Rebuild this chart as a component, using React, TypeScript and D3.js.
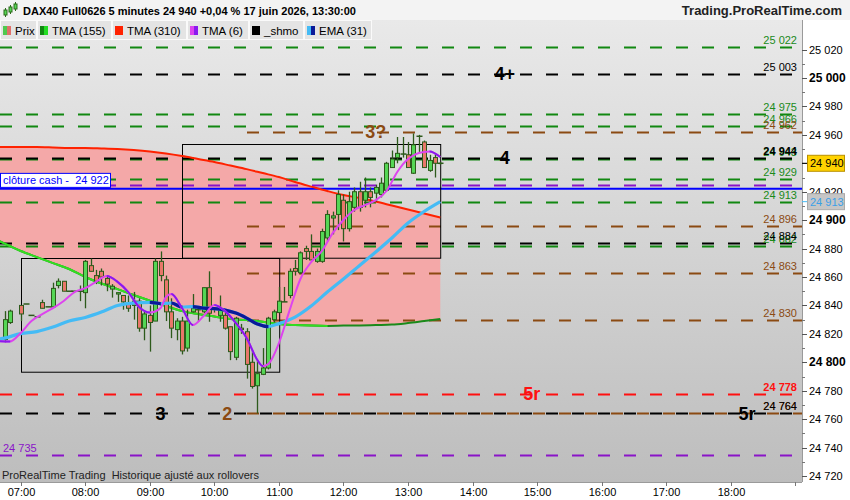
import React from "react";
import * as d3 from "d3";

// 5 minute candles: time, open, high, low, close
const candles: [string, number, number, number, number][] = [
  ["06:45", 24816, 24836, 24814, 24830],
  ["06:50", 24828, 24837, 24827, 24836],
  ["07:00", 24840, 24840, 24829, 24834],
  ["07:05", 24841, 24841, 24841, 24841],
  ["07:10", 24833, 24833, 24833, 24833],
  ["07:15", 24832, 24832, 24832, 24832],
  ["07:20", 24842, 24844, 24838, 24838],
  ["07:25", 24839, 24839, 24839, 24839],
  ["07:30", 24839, 24856, 24839, 24852],
  ["07:35", 24854, 24859, 24852, 24857],
  ["07:40", 24857, 24857, 24850, 24850],
  ["07:45", 24850, 24850, 24850, 24850],
  ["07:50", 24850, 24850, 24850, 24850],
  ["07:55", 24850, 24854, 24843, 24850],
  ["08:00", 24849, 24872, 24838, 24871],
  ["08:05", 24868, 24873, 24864, 24864],
  ["08:10", 24861, 24865, 24855, 24857],
  ["08:15", 24864, 24866, 24854, 24860],
  ["08:20", 24859, 24861, 24850, 24855],
  ["08:25", 24851.5, 24855, 24845.5, 24853.5],
  ["08:30", 24848, 24849, 24842.5, 24849],
  ["08:35", 24847, 24847, 24837, 24842.5],
  ["08:40", 24841.5, 24847, 24835.5, 24838],
  ["08:45", 24840, 24849.5, 24830, 24843],
  ["08:50", 24843, 24845, 24821.5, 24824],
  ["08:55", 24824, 24835.5, 24815.5, 24834],
  ["09:00", 24833, 24840, 24807.5, 24828],
  ["09:05", 24829, 24873, 24829, 24871],
  ["09:10", 24871, 24878, 24857, 24861],
  ["09:15", 24858, 24861, 24829, 24835.5],
  ["09:20", 24835.5, 24845, 24817, 24824],
  ["09:25", 24823, 24831, 24815.5, 24829],
  ["09:30", 24829, 24832, 24805.5, 24808],
  ["09:35", 24810, 24837, 24807.5, 24829],
  ["09:40", 24835.5, 24848, 24835, 24838],
  ["09:45", 24837, 24837, 24828.5, 24837],
  ["09:50", 24835.5, 24852.5, 24834.5, 24852.5],
  ["09:55", 24852.5, 24864, 24828.5, 24834.5],
  ["10:00", 24837, 24838, 24835, 24837.5],
  ["10:05", 24833, 24847, 24828.5, 24837],
  ["10:10", 24833, 24837, 24823, 24824],
  ["10:15", 24825, 24825, 24801.5, 24807.5],
  ["10:20", 24803.5, 24832, 24801.5, 24831],
  ["10:25", 24824, 24827, 24820, 24823],
  ["10:30", 24821.5, 24824, 24788.5, 24798.5],
  ["10:35", 24800, 24808.5, 24781.5, 24783],
  ["10:40", 24783.5, 24801.5, 24764, 24792],
  ["10:45", 24791.5, 24810, 24791, 24796],
  ["10:50", 24796, 24832, 24795, 24831],
  ["10:55", 24830, 24837, 24828, 24835.5],
  ["11:00", 24835, 24853, 24834.5, 24843],
  ["11:05", 24843, 24853, 24842.5, 24842.5],
  ["11:10", 24847, 24866, 24845, 24864],
  ["11:15", 24866, 24872, 24861, 24864],
  ["11:20", 24863, 24878, 24862, 24877],
  ["11:25", 24880, 24882, 24872, 24878],
  ["11:30", 24878, 24890, 24872, 24872],
  ["11:35", 24871, 24880, 24870, 24878],
  ["11:40", 24871, 24894, 24870, 24892],
  ["11:45", 24887.5, 24907, 24885, 24904],
  ["11:50", 24901.5, 24906, 24890, 24903],
  ["11:55", 24904, 24921, 24893, 24918],
  ["12:00", 24914, 24918, 24885, 24894],
  ["12:05", 24894, 24920, 24892, 24913],
  ["12:10", 24909, 24923, 24906, 24920],
  ["12:15", 24920, 24927, 24906, 24909],
  ["12:20", 24914, 24930, 24909, 24920],
  ["12:25", 24920, 24923, 24909, 24916],
  ["12:30", 24919, 24925, 24913, 24923],
  ["12:35", 24918, 24930, 24916, 24926],
  ["12:40", 24921, 24941, 24920, 24940],
  ["12:45", 24937, 24949, 24937, 24943],
  ["12:50", 24944, 24958.5, 24940, 24947],
  ["12:55", 24946.5, 24958.5, 24944, 24946.5],
  ["13:00", 24946, 24955, 24937, 24937],
  ["13:05", 24933, 24961, 24932.5, 24953],
  ["13:10", 24959, 24960, 24948, 24959],
  ["13:15", 24955, 24956, 24937, 24937],
  ["13:20", 24935, 24946, 24934, 24942],
  ["13:25", 24944, 24947, 24930, 24940],
  ["13:30", 24940, 24941, 24939, 24940],
];

// TMA (155) and TMA (310), read every 15 minutes
const maTimes = ["06:40", "07:00", "07:15", "07:30", "07:45", "08:00", "08:15", "08:30", "08:45", "09:00", "09:15", "09:30", "09:45", "10:00", "10:15", "10:30", "10:45", "11:00", "11:15", "11:30", "11:45", "12:00", "12:15", "12:30", "12:45", "13:00", "13:15", "13:30"];
const tma310 = [24951.4, 24951.4, 24951.4, 24951.1, 24950.7, 24950.7, 24950.4, 24950, 24949.3, 24948.3, 24946.9, 24945.1, 24943, 24940.9, 24938.4, 24935.9, 24933.1, 24930.3, 24926.8, 24923.6, 24920.5, 24917.7, 24915.6, 24913.1, 24910.3, 24907.5, 24904.7, 24901.8];
const tma155 = [24885.3, 24878.3, 24874.0, 24869.8, 24865.6, 24860.0, 24855.4, 24851.5, 24847.3, 24843.4, 24839.6, 24836.0, 24833.9, 24832.2, 24830.4, 24829.7, 24828.6, 24826.9, 24826.2, 24825.8, 24825.6, 24825.8, 24825.9, 24826.2, 24826.5, 24827.6, 24829.0, 24830.4];

// TMA (6)
const tma6Times = ["06:40", "06:50", "07:00", "07:10", "07:20", "07:30", "07:40", "07:50", "08:00", "08:10", "08:20", "08:30", "08:40", "08:50", "09:00", "09:10", "09:15", "09:20", "09:30", "09:40", "09:50", "10:00", "10:10", "10:20", "10:30", "10:40", "10:45", "10:50", "11:00", "11:10", "11:20", "11:30", "11:40", "11:50", "12:00", "12:10", "12:20", "12:30", "12:40", "12:50", "13:00", "13:10", "13:20", "13:30"];
const tma6 = [24814.9, 24814.6, 24820.6, 24829.0, 24833.9, 24838.1, 24843.1, 24849.4, 24852.2, 24856.6, 24860.7, 24856.6, 24849.4, 24838.9, 24835.0, 24838.1, 24845.9, 24848.0, 24838.1, 24826.2, 24832.5, 24840.3, 24836.0, 24827.6, 24817.0, 24801.6, 24797.3, 24798.7, 24813.5, 24836.7, 24858.6, 24870.5, 24878.3, 24890.9, 24900.1, 24907.1, 24910.6, 24914.1, 24920.5, 24933.9, 24943.0, 24947.2, 24948.3, 24944.4];

// EMA (31)
const emaTimes = ["06:40", "06:45", "07:00", "07:15", "07:30", "07:45", "08:00", "08:15", "08:30", "08:45", "09:00", "09:10", "09:20", "09:30", "09:40", "09:50", "10:00", "10:10", "10:20", "10:30", "10:40", "10:50", "11:00", "11:15", "11:30", "11:45", "12:00", "12:15", "12:30", "12:45", "13:00", "13:15", "13:30"];
const ema31 = [24816.3, 24817, 24820.2, 24821.6, 24824.8, 24829, 24831.5, 24835.3, 24840, 24841.7, 24842.2, 24841.3, 24841.7, 24838.9, 24839.2, 24838.1, 24837.8, 24836.7, 24834.6, 24831.1, 24826.9, 24825.1, 24827.2, 24831.8, 24839.6, 24849.4, 24858.6, 24868.1, 24877.6, 24887.4, 24898, 24906.1, 24913];

// horizontal levels
const greenLevels = [25022, 24975, 24966, 24943, 24929, 24913, 24882];
const blackLevels = [25003, 24944, 24884, 24764];
const brownLevels = [24962, 24896, 24863, 24830, 24764];
const brownStart = "10:30";
const redLevels = [24778];
const purpleLevels = [24925, 24735];
const cashClose = 24922;

// zones: start, end, top, bottom
const zones: [string, string, number, number][] = [
  ["07:00", "11:00", 24873.3, 24793.3],
  ["09:30", "13:30", 24953.3, 24873.3],
];

// annotations
const blackMarks: [string, string, number][] = [["4+", "14:30", 25003], ["4", "14:30", 24944], ["3", "09:10", 24764], ["5r", "18:15", 24764]];
const brownMarks: [string, string, number][] = [["3?", "12:30", 24962], ["2", "10:12", 24764]];
const redMarks: [string, string, number][] = [["5r", "14:55", 24778]];

const priceTicks = d3.range(24720, 25021, 20);
const minorTicks = d3.range(24730, 25021, 20);
const hourTicks = ["07:00", "08:00", "09:00", "10:00", "11:00", "12:00", "13:00", "14:00", "15:00", "16:00", "17:00", "18:00", "19:00"];
const lastPrice = 24940;

const legend = [
  { label: "Prix", c: ["#4fc94f", "#e0706a"] },
  { label: "TMA (155)", c: ["#118811", "#22dd22"] },
  { label: "TMA (310)", c: ["#ff2200", "#ff2200"] },
  { label: "TMA (6)", c: ["#dd44ee", "#8a1aee"] },
  { label: "_shmo", c: ["#000", "#000"] },
  { label: "EMA (31)", c: ["#44bbf5", "#0a1a99"] },
];
const legendEdges = [0, 37, 112, 187, 249, 304, 372];

const W = 850;
const H = 500;
const PR = 802; // plot right
const PT = 20;
const PB = 482;
const FONT = "'Liberation Sans', Arial, sans-serif";

const toMin = (t: string) => {
  const [h, m] = t.split(":").map(Number);
  return h * 60 + m;
};
const x = d3.scaleLinear().domain([toMin("07:00"), toMin("19:00")]).range([20.7, 795.3]);
const y = d3.scaleLinear().domain([24720, 25000]).range([476, 78]);
const fmt = (v: number) => {
  const s = String(Math.round(v));
  return s.slice(0, s.length - 3) + " " + s.slice(s.length - 3);
};

function TwoTone(props: { id: string; times: string[]; values: number[]; up: string; down: string; w: number }) {
  const { id, times, values, up, down, w } = props;
  const pts: [number, number][] = times.map((t, i) => [x(toMin(t)), y(values[i])]);
  const d = d3.line().curve(d3.curveMonotoneX)(pts) || "";
  const falling: [number, number][] = [];
  for (let i = 0; i < pts.length - 1; i++) {
    if (values[i + 1] < values[i]) falling.push([pts[i][0], pts[i + 1][0]]);
  }
  return (
    <g>
      <clipPath id={id}>
        {falling.map(([a, b], i) => (
          <rect key={i} x={a} y={0} width={b - a + 0.3} height={H} />
        ))}
      </clipPath>
      <path d={d} fill="none" stroke={up} strokeWidth={w} />
      <path d={d} fill="none" stroke={down} strokeWidth={w} clipPath={`url(#${id})`} />
    </g>
  );
}

export default function App() {
  const bodyW = 4;

  const area = d3
    .area<number>()
    .x((_, i) => x(toMin(maTimes[i])))
    .y0((_, i) => y(tma155[i]))
    .y1((_, i) => y(tma310[i]))
    .curve(d3.curveMonotoneX)(tma310) || "";
  const redLine = d3
    .line<number>()
    .x((_, i) => x(toMin(maTimes[i])))
    .y((v) => y(v))
    .curve(d3.curveMonotoneX)(tma310) || "";

  const dashed = (p: number, color: string, x0: number, phase: number, key: string) => {
    const yy = Math.round(y(p)) + 0.5;
    const off = (((x0 - phase) % 26) + 26) % 26;
    return (
      <line key={key} x1={x0} x2={PR} y1={yy} y2={yy} stroke={color} strokeWidth={2} strokeDasharray="12 14" strokeDashoffset={off} />
    );
  };
  const bx = x(toMin(brownStart));

  const rightLabel = (p: number, color: string, key: string, bold = false) => (
    <text key={key} x={797} y={y(p) - 3} textAnchor="end" fontSize={11} fill={color} fontWeight={bold ? "bold" : "normal"}>
      {fmt(p)}
    </text>
  );

  const mark = (m: [string, string, number], color: string, key: string) => (
    <text key={key} x={x(toMin(m[1]))} y={y(m[2])} dy="0.36em" textAnchor="middle" fontSize={18} fontWeight="bold" fill={color}>
      {m[0]}
    </text>
  );

  const emaLast = ema31[ema31.length - 1];

  return (
    <svg width={W} height={H} style={{ position: "absolute", left: 0, top: 0 }} fontFamily={FONT}>
      <defs>
        <linearGradient id="bg" x1="0" y1="0" x2="0" y2="1">
          <stop offset="0" stopColor="#e9e9e9" />
          <stop offset="1" stopColor="#bdbdbd" />
        </linearGradient>
        <clipPath id="plot">
          <rect x={0} y={PT} width={PR} height={PB - PT} />
        </clipPath>
      </defs>
      <rect x={0} y={0} width={W} height={H} fill="#fff" />
      {/* header */}
      <rect x={0} y={0} width={W} height={PT} fill="#f3f3f3" />
      <g stroke="#2d6a1b" strokeWidth={1}>
        <line x1={5.5} x2={5.5} y1={8} y2={17} />
        <rect x={4} y={10} width={3} height={5} fill="#55d655" />
        <line x1={10.5} x2={10.5} y1={5} y2={14} />
        <rect x={9} y={7} width={3} height={5} fill="#55d655" />
        <line x1={15.5} x2={15.5} y1={2} y2={11} />
        <rect x={14} y={4} width={3} height={5} fill="#55d655" />
      </g>
      <text x={23} y={15} fontSize={11} fontWeight="bold" fill="#000">
        DAX40 Full0626 5 minutes 24 940 +0,04 % 17 juin 2026, 13:30:00
      </text>
      <text x={842} y={15} fontSize={13} fontWeight="bold" fill="#222" textAnchor="end">
        Trading.ProRealTime.com
      </text>

      {/* plot */}
      <rect x={0} y={PT} width={PR} height={PB - PT} fill="url(#bg)" />
      <g clipPath="url(#plot)">
        <path d={area} fill="#f4a8a8" />
        {greenLevels.map((p, i) => dashed(p, "#118811", 0, 0, "g" + i))}
        {purpleLevels.map((p, i) => dashed(p, "#8a14c8", 0, 0, "p" + i))}
        {redLevels.map((p, i) => dashed(p, "#ff1010", 0, 0, "r" + i))}
        {blackLevels.map((p, i) => dashed(p, "#000", 0, 0, "k" + i))}
        {brownLevels.map((p, i) => dashed(p, "#8b4a12", bx, 13, "b" + i))}
        <line x1={0} x2={PR} y1={y(cashClose)} y2={y(cashClose)} stroke="#0000ff" strokeWidth={2} />
        {zones.map((z, i) => (
          <rect key={i} x={Math.round(x(toMin(z[0]))) + 0.5} y={Math.round(y(z[2])) + 0.5} width={x(toMin(z[1])) - x(toMin(z[0]))} height={y(z[3]) - y(z[2])} fill="none" stroke="#000" strokeWidth={1} />
        ))}
        <TwoTone id="t155" times={maTimes} values={tma155} up="#1a8a1a" down="#33dd22" w={2} />
        <path d={redLine} fill="none" stroke="#ff2200" strokeWidth={2} />

        {candles.map(([t, o, h, l, c], i) => {
          const cx = Math.round(x(toMin(t))) + 0.5;
          const yo = y(o);
          const yc = y(c);
          const top = Math.min(yo, yc);
          const hgt = Math.abs(yo - yc);
          return (
            <g key={i}>
              <line x1={cx} x2={cx} y1={y(h)} y2={y(l)} stroke="#2d5a1b" strokeWidth={1.3} />
              {hgt < 1.2 ? (
                <line x1={cx - 3} x2={cx + 3} y1={yc} y2={yc} stroke="#2d5a1b" strokeWidth={1.5} />
              ) : (
                <rect x={cx - bodyW / 2} y={top} width={bodyW} height={hgt} fill={c >= o ? "#55d655" : "#e8776a"} stroke="#2d5a1b" strokeWidth={1} />
              )}
            </g>
          );
        })}

        <TwoTone id="ema" times={emaTimes} values={ema31} up="#44bbf5" down="#0a1a99" w={3.2} />
        <TwoTone id="t6" times={tma6Times} values={tma6} up="#dd44ee" down="#8a1aee" w={2} />

        {greenLevels.map((p, i) => rightLabel(p, "#1a8a1a", "gl" + i))}
        {brownLevels.map((p, i) => rightLabel(p, "#8b4a12", "bl" + i))}
        {blackLevels.map((p, i) => rightLabel(p, "#000", "kl" + i, p === 24944))}
        {redLevels.map((p, i) => rightLabel(p, "#ff1010", "rl" + i, true))}
        {purpleLevels.map((p, i) => (
          <text key={"pl" + i} x={3} y={y(p) - 3} fontSize={11} fill="#8a14c8">
            {fmt(p)}
          </text>
        ))}

        {blackMarks.map((m, i) => mark(m, "#000", "bm" + i))}
        {brownMarks.map((m, i) => mark(m, "#8b4a12", "brm" + i))}
        {redMarks.map((m, i) => mark(m, "#ff1010", "rm" + i))}

        <rect x={0.5} y={y(cashClose) - 15.5} width={110} height={14} fill="#fff" stroke="#0000ff" strokeWidth={1} />
        <text x={3} y={y(cashClose) - 4.5} fontSize={11} fill="#0000ff" style={{ whiteSpace: "pre" }}>
          {"clôture cash -  " + fmt(cashClose)}
        </text>

        <text x={2} y={PB - 3} fontSize={11} fill="#222" style={{ whiteSpace: "pre" }}>
          {"ProRealTime Trading  Historique ajusté aux rollovers"}
        </text>
      </g>

      {/* legend row */}
      <g fontSize={11.5}>
        {legend.map((it, i) => {
          const x0 = legendEdges[i];
          const tw = legendEdges[i + 1] - x0 - 1;
          return (
            <g key={i}>
              <rect x={x0 + 0.5} y={PT + 0.5} width={tw} height={19} fill="#e4e4e4" stroke="#fafafa" strokeWidth={1} />
              <rect x={x0 + 3} y={PT + 6} width={4} height={9} fill={it.c[0]} />
              <rect x={x0 + 7} y={PT + 6} width={4} height={9} fill={it.c[1]} />
              <text x={x0 + 15} y={PT + 14.5} fill="#000">
                {it.label}
              </text>
            </g>
          );
        })}
      </g>

      {/* right axis */}
      <line x1={PR + 0.5} x2={PR + 0.5} y1={PT} y2={PB} stroke="#9a9a9a" />
      {priceTicks.map((p) => (
        <g key={p}>
          <line x1={PR} x2={PR + 5} y1={Math.round(y(p)) + 0.5} y2={Math.round(y(p)) + 0.5} stroke="#555" />
          <text x={PR + 7} y={y(p) + 4} fontSize={p % 100 === 0 ? 12 : 11} fontWeight={p % 100 === 0 ? "bold" : "normal"} fill="#000">
            {fmt(p)}
          </text>
        </g>
      ))}
      {minorTicks.map((p) => (
        <line key={p} x1={PR} x2={PR + 3} y1={Math.round(y(p)) + 0.5} y2={Math.round(y(p)) + 0.5} stroke="#777" />
      ))}
      <line x1={PR} x2={PR + 5} y1={y(lastPrice)} y2={y(lastPrice)} stroke="#000" />
      <rect x={PR + 5.5} y={y(lastPrice) - 8} width={37} height={16} fill="#ffd200" stroke="#b89000" />
      <text x={PR + 8} y={y(lastPrice) + 4} fontSize={11} fill="#000">
        {fmt(lastPrice)}
      </text>
      <line x1={PR} x2={PR + 5} y1={y(emaLast)} y2={y(emaLast)} stroke="#44bbf5" />
      <rect x={PR + 5.5} y={y(emaLast) - 8} width={37} height={16} fill="#c6c6c6" stroke="#aaa" />
      <text x={PR + 8} y={y(emaLast) + 4} fontSize={11} fill="#3aa0e8">
        {fmt(emaLast)}
      </text>

      {/* time axis */}
      <line x1={0} x2={PR} y1={PB + 0.5} y2={PB + 0.5} stroke="#9a9a9a" />
      {hourTicks.map((t, i) => {
        const hx = Math.round(x(toMin(t))) + 0.5;
        return (
          <g key={t}>
            <line x1={hx} x2={hx} y1={PB} y2={PB + 4} stroke="#777" />
            {i < hourTicks.length - 1 && (
              <text x={hx} y={PB + 14} fontSize={11} textAnchor="middle" fill="#000">
                {t}
              </text>
            )}
          </g>
        );
      })}
    </svg>
  );
}
